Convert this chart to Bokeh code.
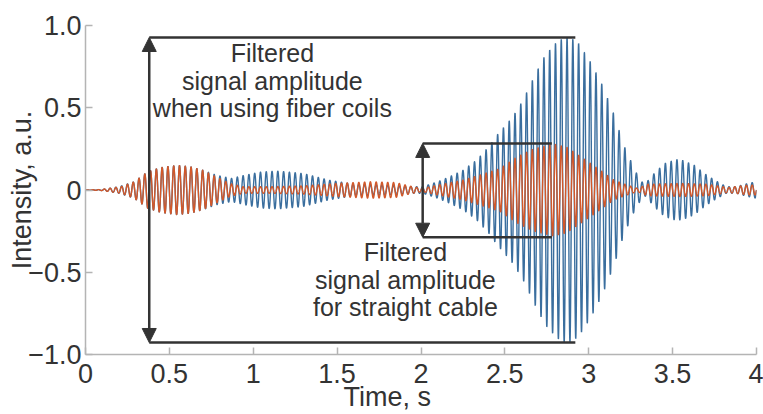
import numpy as np
from bokeh.plotting import figure
from bokeh.models import Arrow, NormalHead, FixedTicker, ColumnDataSource
from bokeh.core.properties import value
from bokeh.embed import file_html
from bokeh.resources import INLINE

# ---- data ----
carrier_hz = 29.0  # oscillation frequency of both filtered signals

# envelope of the blue signal (fiber coils)
blue_t = [0.00, 0.10, 0.20, 0.29, 0.37, 0.45, 0.55, 0.63, 0.70, 0.78, 0.87, 0.95,
          1.05, 1.15, 1.30, 1.45, 1.60, 1.80, 1.95, 2.01, 2.10, 2.17, 2.25, 2.33,
          2.41, 2.45, 2.51, 2.55, 2.61, 2.68, 2.74, 2.81, 2.86, 2.90, 2.94, 3.01,
          3.08, 3.15, 3.21, 3.28, 3.33, 3.39, 3.45, 3.52, 3.56, 3.63, 3.69, 3.75,
          3.82, 3.88, 3.95, 4.00]
blue_amp = [0.00, 0.003, 0.02, 0.05, 0.11, 0.137, 0.15, 0.14, 0.12, 0.09, 0.07, 0.09,
            0.11, 0.115, 0.10, 0.06, 0.035, 0.03, 0.02, 0.02, 0.05, 0.08, 0.12, 0.18,
            0.27, 0.33, 0.40, 0.45, 0.55, 0.70, 0.82, 0.90, 0.93, 0.92, 0.89, 0.78,
            0.64, 0.46, 0.27, 0.11, 0.03, 0.10, 0.16, 0.185, 0.18, 0.15, 0.10, 0.06,
            0.02, 0.02, 0.04, 0.05]

# envelope of the orange signal (straight cable)
orange_t = [0.00, 0.09, 0.21, 0.29, 0.37, 0.45, 0.55, 0.63, 0.70, 0.78, 0.86, 0.94,
            1.10, 1.30, 1.50, 1.70, 1.85, 1.95, 2.01, 2.10, 2.25, 2.41, 2.47, 2.57,
            2.67, 2.79, 2.87, 2.97, 3.07, 3.15, 3.23, 3.29, 3.35, 3.55, 3.71, 3.83,
            3.95, 4.00]
orange_amp = [0.00, 0.003, 0.02, 0.05, 0.11, 0.137, 0.15, 0.14, 0.12, 0.08, 0.04, 0.02,
              0.02, 0.025, 0.04, 0.05, 0.045, 0.02, 0.01, 0.03, 0.06, 0.11, 0.13, 0.20,
              0.25, 0.28, 0.26, 0.19, 0.12, 0.06, 0.03, 0.01, 0.035, 0.04, 0.035, 0.015,
              0.03, 0.03]

x_ticks = [0, 0.5, 1, 1.5, 2, 2.5, 3, 3.5, 4]
x_tick_labels = ["0", "0.5", "1", "1.5", "2", "2.5", "3", "3.5", "4"]
y_ticks = [-1.0, -0.5, 0.0, 0.5, 1.0]
y_tick_labels = ["\u22121.0", "\u22120.5", "0", "0.5", "1.0"]

big_span = (0.38, 2.92, 0.927, -0.927)    # x arrow, x line end, top, bottom
small_span = (2.01, 2.78, 0.283, -0.287)

FONT = "Liberation Sans"
TXT = "#333333"

t = np.linspace(0, 4, 12000)
carrier = np.sin(2 * np.pi * carrier_hz * t)
blue_y = np.interp(t, blue_t, blue_amp) * carrier
orange_y = np.interp(t, orange_t, orange_amp) * carrier

p = figure(width=763, height=414, x_range=(0, 4), y_range=(-1, 1),
           output_backend="svg", toolbar_location=None,
           min_border_left=85, min_border_right=7, min_border_top=25, min_border_bottom=59)
p.outline_line_color = None
p.xgrid.grid_line_color = None
p.ygrid.grid_line_color = None
p.background_fill_color = "white"
p.border_fill_color = "white"

p.line(t, blue_y, line_color="#3A6E9E", line_width=1.4)
p.line(t, orange_y, line_color="#D2582A", line_width=1.4)

for ax in (p.xaxis[0], p.yaxis[0]):
    ax.axis_line_color = "#b4b4b4"
    ax.axis_line_width = 1.5
    ax.major_tick_line_color = "#b4b4b4"
    ax.major_tick_line_width = 1.5
    ax.major_tick_in = 7
    ax.major_tick_out = 0
    ax.minor_tick_line_color = None
    ax.major_label_text_font = FONT
    ax.major_label_text_font_size = "27px"
    ax.major_label_text_color = TXT
    ax.axis_label_text_font = FONT
    ax.axis_label_text_font_size = "27px"
    ax.axis_label_text_font_style = "normal"
    ax.axis_label_text_color = TXT

p.xaxis.ticker = FixedTicker(ticks=x_ticks)
p.xaxis.major_label_overrides = {v: s for v, s in zip(x_ticks, x_tick_labels)}
p.xaxis.major_label_standoff = 9
# trailing no-break spaces shift the centred title left, as in the reference
p.xaxis.axis_label = "Time, s" + "\u00a0" * 9
p.xaxis.axis_label_standoff = -4

p.yaxis.ticker = FixedTicker(ticks=y_ticks)
p.yaxis.major_label_overrides = {v: s for v, s in zip(y_ticks, y_tick_labels)}
p.yaxis.major_label_standoff = 4
p.yaxis.axis_label = "Intensity, a.u."
p.yaxis.axis_label_standoff = -12

# annotation spans
ANN = "#333333"
for (xa, xe, yt, yb) in (big_span, small_span):
    p.segment(x0=[xa, xa], y0=[yt, yb], x1=[xe, xe], y1=[yt, yb], line_color=ANN, line_width=2.5)
    p.add_layout(Arrow(x_start=xa, y_start=yt, x_end=xa, y_end=yb, line_color=ANN, line_width=2.5,
                       start=NormalHead(size=14, fill_color=ANN, line_color=ANN, line_width=1),
                       end=NormalHead(size=14, fill_color=ANN, line_color=ANN, line_width=1)))

txt_src = ColumnDataSource(dict(
    x=[1.114, 1.114, 1.114, 1.907, 1.907, 1.907],
    y=[(190 - 53) / 165, (190 - 81) / 165, (190 - 108) / 165,
       (190 - 252) / 165, (190 - 280) / 165, (190 - 307) / 165],
    text=["Filtered", "signal amplitude", "when using fiber coils",
          "Filtered", "signal amplitude", "for straight cable"]))
p.text(x="x", y="y", text="text", source=txt_src, text_font=value(FONT),
       text_font_size="25px", text_color=TXT, text_align="center", text_baseline="middle")

open("out.html", "w").write(file_html(p, INLINE))
